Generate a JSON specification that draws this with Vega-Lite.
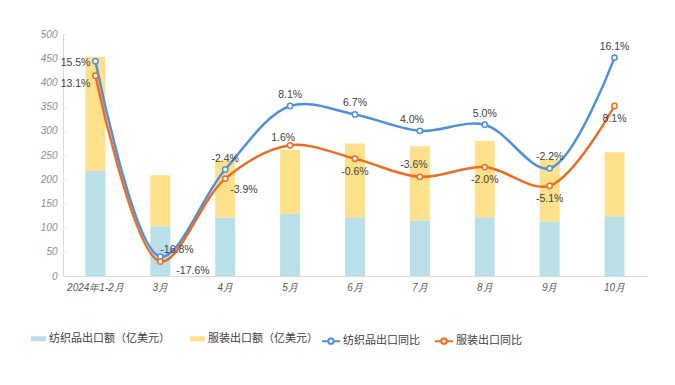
{
  "$schema": "https://vega.github.io/schema/vega-lite/v6.json",
  "width": 584,
  "height": 242,
  "autosize": {"type": "none"},
  "padding": {"left": 63, "top": 34, "right": 28, "bottom": 109},
  "background": "white",
  "config": {
    "view": {"stroke": null},
    "locale": {"number": {"decimal": ".", "thousands": ",", "grouping": [3], "currency": ["$", ""], "minus": "-"}},
    "font": "Liberation Sans"
  },
  "data": {
    "values": [
      {"month": "2024年1-2月", "纺织品出口额（亿美元）": 217, "服装出口额（亿美元）": 236, "纺织品出口同比": 0.155, "服装出口同比": 0.131},
      {"month": "3月", "纺织品出口额（亿美元）": 103, "服装出口额（亿美元）": 105, "纺织品出口同比": -0.168, "服装出口同比": -0.176},
      {"month": "4月", "纺织品出口额（亿美元）": 121, "服装出口额（亿美元）": 118, "纺织品出口同比": -0.024, "服装出口同比": -0.039},
      {"month": "5月", "纺织品出口额（亿美元）": 128, "服装出口额（亿美元）": 133, "纺织品出口同比": 0.081, "服装出口同比": 0.016},
      {"month": "6月", "纺织品出口额（亿美元）": 121.5, "服装出口额（亿美元）": 152.5, "纺织品出口同比": 0.067, "服装出口同比": -0.006},
      {"month": "7月", "纺织品出口额（亿美元）": 114.6, "服装出口额（亿美元）": 153.4, "纺织品出口同比": 0.040, "服装出口同比": -0.036},
      {"month": "8月", "纺织品出口额（亿美元）": 121.5, "服装出口额（亿美元）": 157.5, "纺织品出口同比": 0.050, "服装出口同比": -0.020},
      {"month": "9月", "纺织品出口额（亿美元）": 112.5, "服装出口额（亿美元）": 128.5, "纺织品出口同比": -0.022, "服装出口同比": -0.051},
      {"month": "10月", "纺织品出口额（亿美元）": 123.5, "服装出口额（亿美元）": 132.1, "纺织品出口同比": 0.161, "服装出口同比": 0.081}
    ]
  },
  "encoding": {
    "x": {
      "field": "month", "type": "nominal", "sort": null,
      "scale": {"paddingInner": 0, "paddingOuter": 0},
      "axis": {
        "title": null, "labelAngle": 0, "ticks": false, "domainColor": "#d9d9d9",
        "labelFont": "Liberation Sans", "labelFontSize": 10, "labelFontStyle": "italic",
        "labelColor": "#595959", "labelPadding": 6
      }
    }
  },
  "layer": [
    {
      "transform": [{"fold": ["纺织品出口额（亿美元）", "服装出口额（亿美元）"], "as": ["key", "value"]}],
      "mark": {"type": "bar", "size": 20},
      "encoding": {
        "y": {
          "field": "value", "type": "quantitative", "stack": "zero",
          "scale": {"domain": [0, 500], "nice": false},
          "axis": {
            "title": null, "values": [0, 50, 100, 150, 200, 250, 300, 350, 400, 450, 500],
            "grid": false, "domainColor": "#d9d9d9", "tickColor": "#e6e6e6", "tickSize": -3,
            "labelFont": "Liberation Sans", "labelFontSize": 10, "labelFontStyle": "italic",
            "labelColor": "#8c8c8c", "labelPadding": 9
          }
        },
        "fill": {
          "field": "key", "type": "nominal",
          "scale": {"domain": ["纺织品出口额（亿美元）", "服装出口额（亿美元）"], "range": ["#b9dfe8", "#fee18a"]},
          "legend": {
            "title": null, "orient": "none", "legendX": -32, "legendY": 297, "direction": "horizontal",
            "symbolType": "M-1,-0.33H1V0.33H-1Z", "symbolSize": 225, "symbolStrokeWidth": 0,
            "labelFont": "Noto Sans CJK SC", "labelFontSize": 11, "labelColor": "#404040",
            "labelOffset": 3, "columnPadding": 20
          }
        },
        "order": {"field": "key", "sort": "descending"}
      }
    },
    {
      "layer": [
        {
          "transform": [{"fold": ["纺织品出口同比", "服装出口同比"], "as": ["series", "yoy"]}],
          "mark": {"type": "line", "interpolate": "catmull-rom", "strokeWidth": 2.5},
          "encoding": {
            "y": {"field": "yoy", "type": "quantitative", "scale": {"domain": [-0.2, 0.2], "nice": false}, "axis": null},
            "stroke": {
              "field": "series", "type": "nominal",
              "scale": {"domain": ["纺织品出口同比", "服装出口同比"], "range": ["#4d90df", "#ef6c1f"]},
              "legend": {
                "title": null, "orient": "none", "legendX": 258, "legendY": 297, "direction": "horizontal",
                "symbolType": "M-1,0H-0.3M0.3,0H1M-0.3,0A0.3,0.3 0 1,0 0.3,0A0.3,0.3 0 1,0 -0.3,0",
                "symbolSize": 324, "symbolStrokeWidth": 2, "symbolFillColor": "#ffffff",
                "labelFont": "Noto Sans CJK SC", "labelFontSize": 11, "labelColor": "#404040",
                "labelOffset": 2, "columnPadding": 11
              }
            }
          }
        },
        {
          "transform": [{"fold": ["纺织品出口同比", "服装出口同比"], "as": ["series", "yoy"]}],
          "mark": {"type": "point", "filled": true, "fill": "#ffffff", "size": 28, "strokeWidth": 1.5, "opacity": 1},
          "encoding": {
            "y": {"field": "yoy", "type": "quantitative", "axis": null},
            "stroke": {"field": "series", "type": "nominal"}
          }
        },
        {
          "transform": [{"filter": {"field": "month", "oneOf": ["2024年1-2月"]}}],
          "mark": {"type": "text", "align": "right", "dx": -5, "dy": 2, "fontSize": 10.5, "fill": "#404040"},
          "encoding": {
            "y": {"field": "纺织品出口同比", "type": "quantitative", "axis": null},
            "text": {"field": "纺织品出口同比", "format": ".1%"}
          }
        },
        {
          "transform": [{"filter": {"field": "month", "oneOf": ["3月"]}}],
          "mark": {"type": "text", "align": "left", "dx": 0, "dy": -7, "fontSize": 10.5, "fill": "#404040"},
          "encoding": {
            "y": {"field": "纺织品出口同比", "type": "quantitative", "axis": null},
            "text": {"field": "纺织品出口同比", "format": ".1%"}
          }
        },
        {
          "transform": [{"filter": {"field": "month", "oneOf": ["4月", "5月", "6月", "8月", "9月", "10月"]}}],
          "mark": {"type": "text", "align": "center", "dy": -11, "fontSize": 10.5, "fill": "#404040"},
          "encoding": {
            "y": {"field": "纺织品出口同比", "type": "quantitative", "axis": null},
            "text": {"field": "纺织品出口同比", "format": ".1%"}
          }
        },
        {
          "transform": [{"filter": {"field": "month", "oneOf": ["7月"]}}],
          "mark": {"type": "text", "align": "center", "dx": -8, "dy": -11, "fontSize": 10.5, "fill": "#404040"},
          "encoding": {
            "y": {"field": "纺织品出口同比", "type": "quantitative", "axis": null},
            "text": {"field": "纺织品出口同比", "format": ".1%"}
          }
        },
        {
          "transform": [{"filter": {"field": "month", "oneOf": ["2024年1-2月"]}}],
          "mark": {"type": "text", "align": "right", "dx": -5, "dy": 8, "fontSize": 10.5, "fill": "#404040"},
          "encoding": {
            "y": {"field": "服装出口同比", "type": "quantitative", "axis": null},
            "text": {"field": "服装出口同比", "format": ".1%"}
          }
        },
        {
          "transform": [{"filter": {"field": "month", "oneOf": ["3月"]}}],
          "mark": {"type": "text", "align": "left", "dx": 16, "dy": 10, "fontSize": 10.5, "fill": "#404040"},
          "encoding": {
            "y": {"field": "服装出口同比", "type": "quantitative", "axis": null},
            "text": {"field": "服装出口同比", "format": ".1%"}
          }
        },
        {
          "transform": [{"filter": {"field": "month", "oneOf": ["4月"]}}],
          "mark": {"type": "text", "align": "left", "dx": 5, "dy": 11, "fontSize": 10.5, "fill": "#404040"},
          "encoding": {
            "y": {"field": "服装出口同比", "type": "quantitative", "axis": null},
            "text": {"field": "服装出口同比", "format": ".1%"}
          }
        },
        {
          "transform": [{"filter": {"field": "month", "oneOf": ["5月"]}}],
          "mark": {"type": "text", "align": "center", "dx": -7, "dy": -7, "fontSize": 10.5, "fill": "#404040"},
          "encoding": {
            "y": {"field": "服装出口同比", "type": "quantitative", "axis": null},
            "text": {"field": "服装出口同比", "format": ".1%"}
          }
        },
        {
          "transform": [{"filter": {"field": "month", "oneOf": ["7月"]}}],
          "mark": {"type": "text", "align": "center", "dx": -6, "dy": -12, "fontSize": 10.5, "fill": "#404040"},
          "encoding": {
            "y": {"field": "服装出口同比", "type": "quantitative", "axis": null},
            "text": {"field": "服装出口同比", "format": ".1%"}
          }
        },
        {
          "transform": [{"filter": {"field": "month", "oneOf": ["6月", "8月", "9月", "10月"]}}],
          "mark": {"type": "text", "align": "center", "dy": 13, "fontSize": 10.5, "fill": "#404040"},
          "encoding": {
            "y": {"field": "服装出口同比", "type": "quantitative", "axis": null},
            "text": {"field": "服装出口同比", "format": ".1%"}
          }
        }
      ]
    }
  ],
  "resolve": {"scale": {"y": "independent"}}
}
